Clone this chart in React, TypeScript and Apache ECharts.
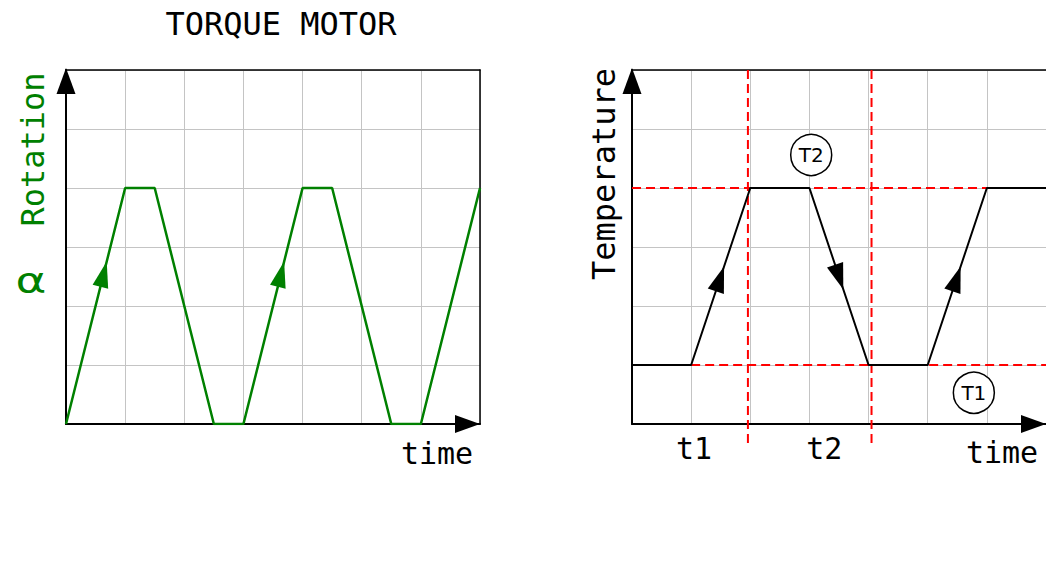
import React, { useEffect, useRef } from 'react';
import * as echarts from 'echarts';

// ---- data ----
const xRange = [0, 7];
const yRange = [0, 6];
const rotationData: number[][] = [[0, 0], [1, 4], [1.5, 4], [2.5, 0], [3, 0], [4, 4], [4.5, 4], [5.5, 0], [6, 0], [7, 4]];
const temperatureData: number[][] = [[0, 1], [1, 1], [2, 4], [3, 4], [4, 1], [5, 1], [6, 4], [7, 4]];
// [x, y, rotation in degrees]
const rotationArrows: number[][] = [[0.635, 2.54, -14], [3.635, 2.54, -14]];
const temperatureArrows: number[][] = [[1.487, 2.46, -18.5], [3.503, 2.49, 198.5], [5.487, 2.46, -18.5]];
const t1Level = 1;
const t2Level = 4;
const phaseBounds = [1.96, 4.05];
const circleLabels = [
  { name: 'T2', value: [3.03, 4.56] },
  { name: 'T1', value: [5.78, 0.53] },
];
const timeMarks = [
  { name: 't1', value: [1.05, -0.42] },
  { name: 't2', value: [3.25, -0.42] },
];

const MONO = '"DejaVu Sans Mono", monospace';
const GREEN = '#008000';
const RED = '#ff0000';
const GRIDC = '#c4c4c4';

function xAxisBottom(grid: number) {
  return {
    type: 'value', gridIndex: grid, min: xRange[0], max: xRange[1], interval: 1,
    axisLabel: { show: false }, axisTick: { show: false },
    splitLine: { show: true, lineStyle: { color: GRIDC, width: 1 } },
    axisLine: {
      show: true, onZero: false, symbol: ['none', 'triangle'], symbolSize: [18, 25], symbolOffset: [0, -12.5],
      lineStyle: { color: '#000', width: 2 },
    },
  };
}
function xAxisTop(grid: number) {
  return {
    type: 'value', gridIndex: grid, position: 'top', min: xRange[0], max: xRange[1], interval: 1,
    axisLabel: { show: false }, axisTick: { show: false }, splitLine: { show: false },
    axisLine: { show: true, onZero: false, lineStyle: { color: '#000', width: 1.5 } },
  };
}
function yAxisLeft(grid: number) {
  return {
    type: 'value', gridIndex: grid, min: yRange[0], max: yRange[1], interval: 1,
    axisLabel: { show: false }, axisTick: { show: false },
    splitLine: { show: true, lineStyle: { color: GRIDC, width: 1 } },
    axisLine: {
      show: true, onZero: false, symbol: ['none', 'triangle'], symbolSize: [19, 26], symbolOffset: [0, -11],
      lineStyle: { color: '#000', width: 2 },
    },
  };
}

function dashed(data: number[][]) {
  return {
    type: 'line', xAxisIndex: 2, yAxisIndex: 1, data, showSymbol: false, clip: false, z: 1,
    lineStyle: { color: RED, width: 2, type: [9, 5] }, silent: true,
  };
}

export default function App() {
  const ref = useRef<HTMLDivElement>(null);
  useEffect(() => {
    if (!ref.current) return;
    const chart = echarts.init(ref.current, null, { renderer: 'svg' });
    const option: any = {
      animation: false,
      backgroundColor: '#fff',
      grid: [
        { left: 66, top: 70, width: 414, height: 354 },
        { left: 632, top: 70, width: 414, height: 354 },
      ],
      xAxis: [xAxisBottom(0), xAxisTop(0), xAxisBottom(1), xAxisTop(1)],
      yAxis: [
        yAxisLeft(0),
        yAxisLeft(1),
        {
          type: 'value', gridIndex: 0, position: 'right', min: yRange[0], max: yRange[1], interval: 1,
          axisLabel: { show: false }, axisTick: { show: false }, splitLine: { show: false },
          axisLine: { show: true, onZero: false, lineStyle: { color: '#000', width: 1.5 } },
        },
      ],
      series: [
        {
          type: 'line', xAxisIndex: 0, yAxisIndex: 0, data: rotationData, showSymbol: false, z: 3,
          lineStyle: { color: GREEN, width: 2.5 },
        },
        {
          type: 'scatter', xAxisIndex: 0, yAxisIndex: 0, z: 4,
          data: rotationArrows.map((a) => ({ value: [a[0], a[1]], symbolRotate: a[2] })),
          symbol: 'triangle', symbolSize: [16, 26], itemStyle: { color: GREEN, opacity: 1 },
        },
        dashed([[phaseBounds[0], yRange[1]], [phaseBounds[0], -0.36]]),
        dashed([[phaseBounds[1], yRange[1]], [phaseBounds[1], -0.36]]),
        dashed([[0, t2Level], [6, t2Level]]),
        dashed([[1, t1Level], [7, t1Level]]),
        {
          type: 'line', xAxisIndex: 2, yAxisIndex: 1, data: temperatureData, showSymbol: false, z: 3,
          lineStyle: { color: '#000', width: 2 },
        },
        {
          type: 'scatter', xAxisIndex: 2, yAxisIndex: 1, z: 4,
          data: temperatureArrows.map((a) => ({ value: [a[0], a[1]], symbolRotate: a[2] })),
          symbol: 'triangle', symbolSize: [17, 26], itemStyle: { color: '#000', opacity: 1 },
        },
        {
          type: 'scatter', xAxisIndex: 2, yAxisIndex: 1, z: 5, data: circleLabels,
          symbol: 'circle', symbolSize: 41,
          itemStyle: { color: '#fff', borderColor: '#000', borderWidth: 1.5, opacity: 1 },
          label: { show: true, position: 'inside', formatter: '{b}', color: '#000', fontSize: 20, fontFamily: '"DejaVu Sans", sans-serif', textBorderWidth: 0 },
        },
        {
          type: 'scatter', xAxisIndex: 2, yAxisIndex: 1, z: 5, data: timeMarks, clip: false,
          symbol: 'circle', symbolSize: 2, itemStyle: { color: '#ffffff', opacity: 0 },
          label: { show: true, position: 'inside', formatter: '{b}', color: '#000', opacity: 1, fontSize: 30, fontFamily: MONO, textBorderWidth: 0 },
        },
      ],
      graphic: [
        { type: 'text', x: 281, y: 24, style: { text: 'TORQUE MOTOR', fill: '#000', fontSize: 32, fontFamily: MONO, align: 'center', verticalAlign: 'middle' } },
        { type: 'text', x: 33, y: 149.5, rotation: Math.PI / 2, style: { text: 'Rotation', fill: GREEN, fontSize: 32, fontFamily: MONO, align: 'center', verticalAlign: 'middle' } },
        { type: 'text', x: 31, y: 280, scaleX: 1.3, style: { text: 'α', fill: GREEN, fontSize: 36, fontFamily: '"DejaVu Sans", sans-serif', align: 'center', verticalAlign: 'middle' } },
        { type: 'text', x: 603.5, y: 174, rotation: Math.PI / 2, style: { text: 'Temperature', fill: '#000', fontSize: 32, fontFamily: MONO, align: 'center', verticalAlign: 'middle' } },
        { type: 'text', x: 437, y: 453, style: { text: 'time', fill: '#000', fontSize: 30, fontFamily: MONO, align: 'center', verticalAlign: 'middle' } },
        { type: 'text', x: 1002, y: 452, style: { text: 'time', fill: '#000', fontSize: 30, fontFamily: MONO, align: 'center', verticalAlign: 'middle' } },
      ],
    };
    chart.setOption(option);
    return () => chart.dispose();
  }, []);
  return <div ref={ref} style={{ position: 'fixed', left: 0, top: 0, width: 1046, height: 580, background: '#fff' }} />;
}
